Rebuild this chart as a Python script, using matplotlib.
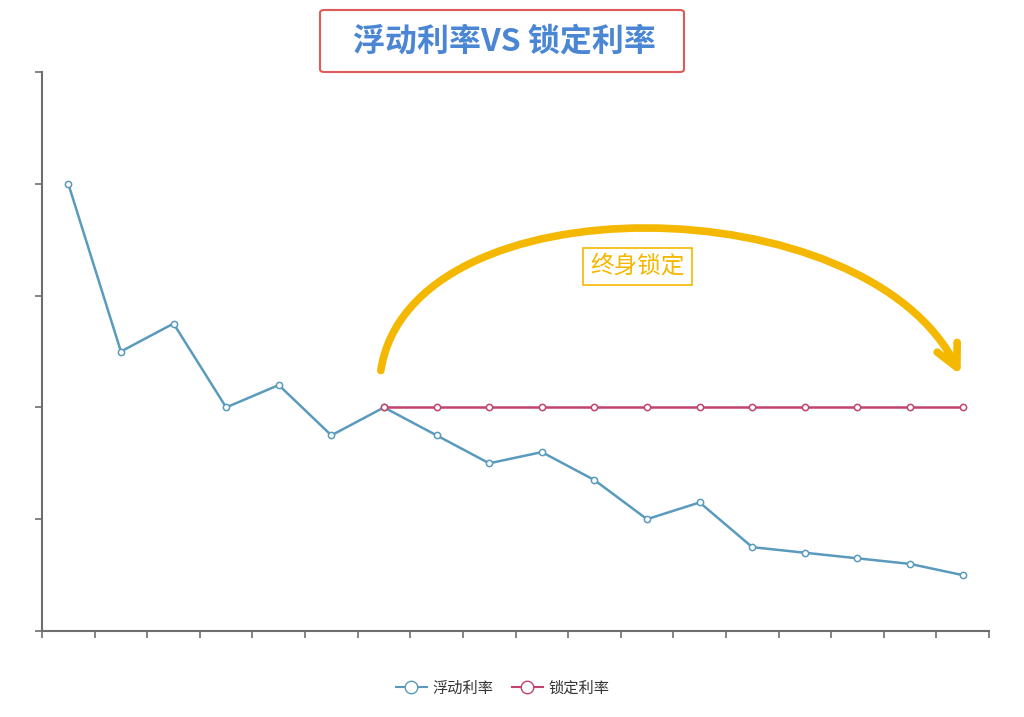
import numpy as np
import matplotlib
matplotlib.use('Agg')
import matplotlib.pyplot as plt
from matplotlib.patches import FancyArrowPatch, FancyBboxPatch
from matplotlib.path import Path
from matplotlib.lines import Line2D

plt.rcParams['font.family'] = ['Noto Sans CJK SC', 'DejaVu Sans']

# данные
periods = list(range(18))
float_rate = [4.0, 2.5, 2.75, 2.0, 2.2, 1.75, 2.0, 1.75, 1.5, 1.6, 1.35,
              1.0, 1.15, 0.75, 0.7, 0.65, 0.6, 0.5]
fixed_rate = [np.nan] * 6 + [2.0] * 12

blue = '#5a9bbd'
red = '#c2436b'
gold = '#f5b800'

fig = plt.figure(figsize=(10.24, 7.17), dpi=100)
ax = fig.add_axes([42 / 1024, 1 - 631 / 717, (989 - 42) / 1024, (631 - 72) / 717])

ax.plot(periods, float_rate, color=blue, lw=1.8, marker='o', ms=4.5,
        mfc='white', mec=blue, mew=1.1, zorder=3)
ax.plot(periods, fixed_rate, color=red, lw=1.8, marker='o', ms=4.5,
        mfc='white', mec=red, mew=1.1, zorder=4)

ax.set_xlim(-0.5, 17.5)
ax.set_ylim(0, 5)
ax.set_xticks(np.arange(-0.5, 18, 1))
ax.set_yticks(range(6))
ax.set_xticklabels([])
ax.set_yticklabels([])
for s in ['top', 'right']:
    ax.spines[s].set_visible(False)
for s in ['left', 'bottom']:
    ax.spines[s].set_color('#6e6e6e')
    ax.spines[s].set_linewidth(1.5)
ax.tick_params(direction='out', length=5, width=1.2, color='#6e6e6e')

# жёлтая стрелка "终身锁定"
verts = [(5.94, 2.33), (6.5, 4.05), (15.2, 4.0), (16.96, 2.29)]
arc = Path(verts, [Path.MOVETO, Path.CURVE4, Path.CURVE4, Path.CURVE4])
arrow = FancyArrowPatch(path=arc, arrowstyle='->,head_length=16,head_width=8',
                        color=gold, lw=5.5, capstyle='round', joinstyle='round',
                        transform=ax.transData, zorder=5)
ax.add_patch(arrow)
ax.text(10.82, 3.26, '终身锁定', color=gold, fontsize=17, ha='center', va='center',
        bbox=dict(boxstyle='square,pad=0.3', fc='white', ec=gold, lw=1.2), zorder=6)

# заголовок в рамке
box = FancyBboxPatch((320 / 1024, 1 - 72 / 717), 364 / 1024, 62 / 717,
                     boxstyle='round,pad=0,rounding_size=0.004',
                     transform=fig.transFigure, fc='white', ec='#e05a5a', lw=1.5)
fig.patches.append(box)
fig.text(504 / 1024, 1 - 41 / 717, '浮动利率VS 锁定利率', color='#4a86d4',
         fontsize=23, fontweight='bold', style='italic', ha='center', va='center')

# легенда
handles = [Line2D([], [], color=blue, lw=1.5, marker='o', ms=9, mfc='white', mec=blue),
           Line2D([], [], color=red, lw=1.5, marker='o', ms=9, mfc='white', mec=red)]
fig.legend(handles, ['浮动利率', '锁定利率'], loc='center', ncol=2, frameon=False,
           bbox_to_anchor=(503 / 1024, 1 - 688 / 717), fontsize=11,
           handlelength=2, columnspacing=1.2, handletextpad=0.4, labelcolor='#333333')

fig.savefig('out.png', dpi=100)
plt.close()
